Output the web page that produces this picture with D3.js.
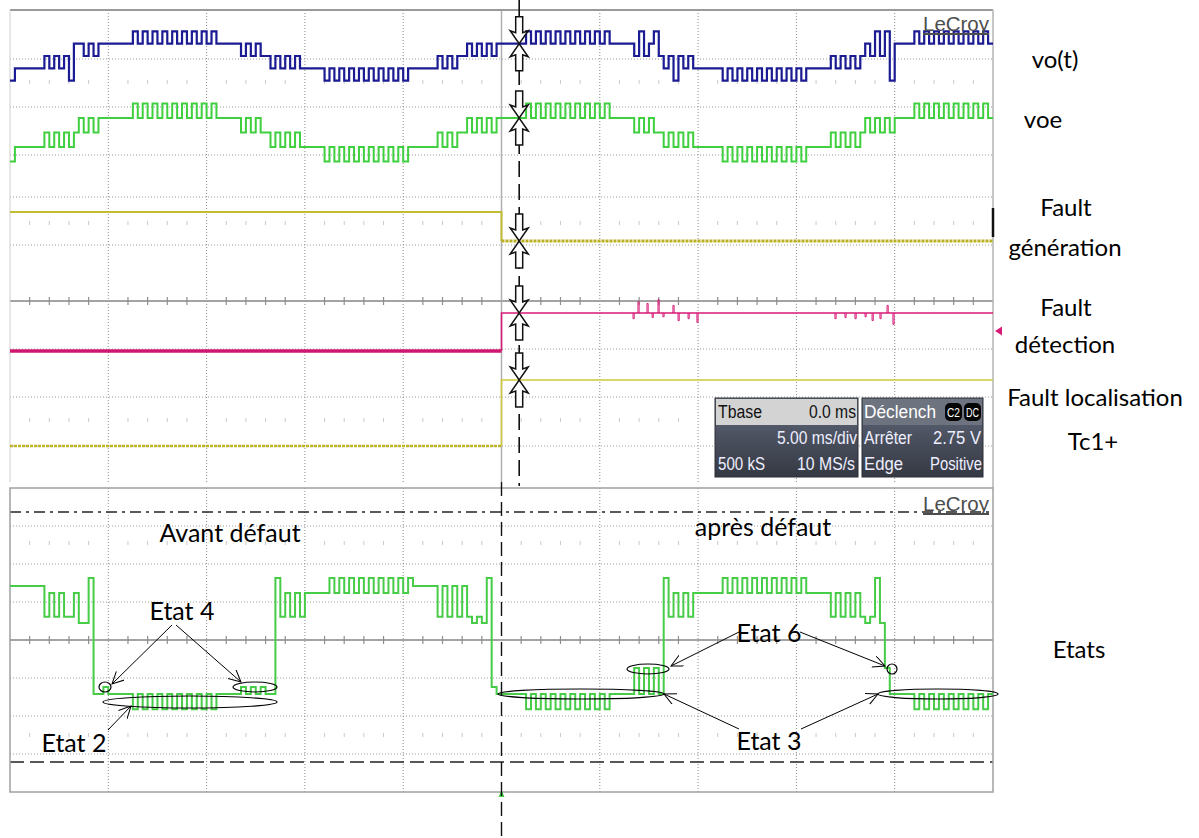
<!DOCTYPE html>
<html><head><meta charset="utf-8">
<script src="https://cdn.jsdelivr.net/npm/d3@7"></script>
<style>body{margin:0;background:#fff}svg{display:block}</style>
</head><body>
<svg id="c" width="1199" height="838"></svg>
<script>
// ---------------- DATA ----------------
// time axis: 5 ms/div, 10 divisions, trigger at 0 ms; traces sampled every 0.25 ms from -25 ms
const timeStartMs = -25, timeEndMs = 25, sampleMs = 0.25;
const timeDivTicks = [-20, -15, -10, -5, 0, 5, 10, 15, 20];

// vo(t): multilevel output voltage, levels -2..2
const voLevels = [
 -2,
 -1,-1,-1,-1,-1,-1,
 0,-1,0,-1,0,-2,
 1,1,0,1,0,1,1,
 1,1,1,1,1,
 2,1,2,1,2,1,2,1,2,1,2,1,2,1,2,1,2,
 1,1,1,1,1,
 0,1,0,1,0,0,
 -1,0,-1,0,-1,0,-1,
 -1,-1,-1,-1,
 -2,-1,-2,-1,-2,-1,-2,-1,-2,-1,-2,-1,-2,-1,-2,-1,-2,-1,
 -1,-1,-1,-1,-1,
 0,-1,0,-1,0,0,
 1,0,1,0,1,0,1,
 1,1,1,1,1,
 2,1,2,1,2,1,2,1,2,1,2,1,2,1,2,1,2,
 1,1,1,1,1,
 0,2,0,1,2,0,
 -1,0,-2,0,-1,0,-1,
 -1,-1,-1,-1,-1,
 -2,-1,-2,-1,-2,-1,-2,-1,-2,-1,-2,-1,-2,-1,-2,-1,-2,
 -1,-1,-1,-1,-1,
 0,-1,0,-1,0,-1,0,
 1,0,2,0,2,-2,
 1,1,1,1,
 2,1,2,1,2,1,2,1,2,1,2,1,2,1,2,1
];

// voe: estimated output voltage, levels -2..2
const voeLevels = [
 -2,
 -1,-1,-1,-1,-1,-1,
 0,-1,0,-1,0,-1,
 0,1,0,1,0,1,1,
 1,1,1,1,1,
 2,1,2,1,2,1,2,1,2,1,2,1,2,1,2,1,2,
 1,1,1,1,1,
 0,1,0,1,0,0,
 -1,0,-1,0,-1,0,-1,
 -1,-1,-1,-1,
 -2,-1,-2,-1,-2,-1,-2,-1,-2,-1,-2,-1,-2,-1,-2,-1,-2,-1,
 -1,-1,-1,-1,-1,
 0,-1,0,-1,0,0,
 1,0,1,0,1,0,1,
 1,1,1,1,1,
 2,1,2,1,2,1,2,1,2,1,2,1,2,1,2,1,2,
 1,1,1,1,1,
 0,1,0,1,0,0,
 -1,0,-1,0,-1,0,-1,
 -1,-1,-1,-1,-1,
 -2,-1,-2,-1,-2,-1,-2,-1,-2,-1,-2,-1,-2,-1,-2,-1,-2,
 -1,-1,-1,-1,-1,
 0,-1,0,-1,0,-1,0,
 1,0,1,0,1,0,
 1,1,1,1,
 2,1,2,1,2,1,2,1,2,1,2,1,2,1,2,1
];

// Etats: state signal in bottom screen (divisions from centre line)
const etatsLevels = [
 1.42,1.42,1.42,1.42,1.42,1.42,1.42,
 0.61,1.24,0.61,1.24,0.61,0.61,1.24,0.45,0.45,1.63,-1.42,
 -1.42,-1.24,
 -1.42,-1.42,-1.42,-1.42,-1.42,
 -1.82,-1.42,-1.82,-1.42,-1.82,-1.42,-1.82,-1.42,-1.82,-1.42,-1.82,-1.42,-1.82,-1.42,-1.82,-1.42,-1.82,
 -1.42,-1.42,-1.42,-1.42,-1.42,
 -1.24,-1.42,-1.24,-1.42,-1.24,-1.42,
 -1.42,
 1.63,
 0.61,1.24,0.61,1.24,0.61,
 1.24,1.24,1.24,1.24,1.24,
 1.63,1.24,1.63,1.24,1.63,1.24,1.63,1.24,1.63,1.24,1.63,1.24,1.63,1.24,1.63,1.24,1.63,
 1.42,1.42,1.42,1.42,1.42,
 0.61,1.42,0.61,1.42,0.61,1.42,0.61,
 0.45,0.61,0.45,
 1.63,
 -1.24,
 -1.42,
 -1.42,-1.42,-1.42,-1.42,-1.42,
 -1.82,-1.42,-1.82,-1.42,-1.82,-1.42,-1.82,-1.42,-1.82,-1.42,-1.82,-1.42,-1.82,-1.42,-1.82,-1.42,-1.82,
 -1.42,-1.42,-1.42,-1.42,-1.42,
 -0.74,-1.42,-0.74,-1.42,-0.74,-1.42,
 1.63,
 0.61,1.24,0.61,1.24,0.61,1.24,
 1.24,1.24,1.24,1.24,1.24,
 1.63,1.24,1.63,1.24,1.63,1.24,1.63,1.24,1.63,1.24,1.63,1.24,1.63,1.24,1.63,1.24,1.63,
 1.24,1.24,1.24,1.24,1.24,
 0.61,1.24,0.61,1.24,0.61,1.24,0.61,
 0.45,0.61,1.63,0.45,
 -0.74,-1.42,
 -1.42,-1.42,-1.42,-1.42,
 -1.82,-1.42,-1.82,-1.42,-1.82,-1.42,-1.82,-1.42,-1.82,-1.42,-1.82,-1.42,-1.82,-1.42,-1.82,-1.42
];

// logic traces: [time ms, level]
const faultGenSteps = [[-25, 1], [0, 0]];
const faultDetSteps = [[-25, 0], [0, 1]];
const faultLocSteps = [[-25, 0], [0, 1]];
// glitches on the detection trace after the fault: [time ms, amplitude]
const faultDetSpikes = [[6.69,-0.15],[6.94,0.3],[7.40,0.25],[7.66,-0.12],[7.96,0.35],[8.21,-0.1],[8.72,0.2],[8.98,-0.2],[9.49,-0.15],[9.94,-0.25],
  [16.96,-0.15],[17.47,-0.12],[17.98,-0.15],[18.49,-0.1],[18.85,-0.2],[19.25,-0.15],[19.61,0.2],[19.91,-0.3]];
const triggerMarkerMs = 0.9;

const sideLabels = ["vo(t)", "voe", "Fault", "génération", "Fault", "détection", "Fault localisation", "Tc1+", "Etats"];
const phaseLabels = ["Avant défaut", "après défaut"];
const stateLabels = ["Etat 4", "Etat 2", "Etat 6", "Etat 3"];
const infoLeft = ["Tbase", "0.0 ms", "5.00 ms/div", "500 kS", "10 MS/s"];
const infoRight = ["Déclench", "C2", "DC", "Arrêter", "2.75 V", "Edge", "Positive"];
const brand = "LeCroy";

// ---------------- DRAWING ----------------
const svg = d3.select("#c");
const L = 10, R = 993, TOP = 10, TOPBOT = 482, BT = 488, BB = 792;
const x = d3.scaleLinear().domain([timeStartMs, timeEndMs]).range([L, R]);
const yVo = d3.scaleLinear().domain([-2, 2]).range([80.6, 31.4]);
const yVoe = d3.scaleLinear().domain([-2, 2]).range([161.5, 103.5]);
const yGen = d3.scaleLinear().domain([0, 1]).range([241, 212]);
const yDet = d3.scaleLinear().domain([0, 1]).range([351, 313]);
const yLoc = d3.scaleLinear().domain([0, 1]).range([446, 380]);
const yEt = d3.scaleLinear().domain([-4, 4]).range([BB, BT]);

const defs = svg.append("defs");
const g1 = defs.append("linearGradient").attr("id","boxg").attr("x1",0).attr("y1",0).attr("x2",0).attr("y2",1);
g1.append("stop").attr("offset","0%").attr("stop-color","#646c7e");
g1.append("stop").attr("offset","50%").attr("stop-color","#4a505e");
g1.append("stop").attr("offset","100%").attr("stop-color","#353943");
defs.append("marker").attr("id","arr").attr("markerUnits","userSpaceOnUse")
  .attr("markerWidth",14).attr("markerHeight",14).attr("refX",12).attr("refY",6)
  .attr("orient","auto").append("path").attr("d","M0,0 L12,6 L0,12")
  .attr("fill","none").attr("stroke","#000").attr("stroke-width",1);

const grid = svg.append("g");
const dotted = {stroke:"#9c9c9c", "stroke-width":1, "stroke-dasharray":"1,2"};
function applyAttrs(sel, o){ for (const k in o) sel.attr(k, o[k]); return sel; }

// faint minor tick rows
const minorX = d3.range(1, 50).filter(j => j % 5 !== 0).map(j => L + (R - L) * j / 50);
[82, 223, 420, 543, 735].forEach(yy => {
  grid.selectAll(null).data(minorX).enter().append("line")
    .attr("x1", d => d).attr("x2", d => d).attr("y1", yy - 2).attr("y2", yy + 2)
    .attr("stroke", "#c9c9c9").attr("stroke-width", 1);
});

// top screen horizontal grid
[59, 107, 155, 197, 245, 349, 397, 446].forEach(yy => {
  applyAttrs(grid.append("line").attr("x1", L).attr("x2", R).attr("y1", yy).attr("y2", yy), dotted);
});
// bottom screen horizontal grid
[526, 564, 602, 678, 716, 754].forEach(yy => {
  applyAttrs(grid.append("line").attr("x1", L).attr("x2", R).attr("y1", yy).attr("y2", yy), dotted);
});
// vertical grid
timeDivTicks.forEach(t => {
  if (t === 0) return;
  applyAttrs(grid.append("line").attr("x1", x(t)).attr("x2", x(t)).attr("y1", TOP).attr("y2", TOPBOT), dotted).attr("stroke","#8a8a8a");
  applyAttrs(grid.append("line").attr("x1", x(t)).attr("x2", x(t)).attr("y1", BT).attr("y2", BB), dotted).attr("stroke","#8a8a8a");
});
grid.append("line").attr("x1", x(0)).attr("x2", x(0)).attr("y1", TOP).attr("y2", TOPBOT).attr("stroke", "#b0b0b0").attr("stroke-width", 1.5);

// centre solid lines with ticks
[301, 640].forEach(yy => {
  grid.append("line").attr("x1", L).attr("x2", R).attr("y1", yy).attr("y2", yy).attr("stroke", "#a3a3a3").attr("stroke-width", 2);
  grid.selectAll(null).data(minorX).enter().append("line")
    .attr("x1", d => d).attr("x2", d => d).attr("y1", yy - 4).attr("y2", yy + 4)
    .attr("stroke", "#8e8e8e").attr("stroke-width", 1.2);
});
// reference lines in bottom screen
grid.append("line").attr("x1", L).attr("x2", R).attr("y1", 512).attr("y2", 512).attr("stroke", "#222").attr("stroke-width", 1.6).attr("stroke-dasharray", "11,5,3,5");
grid.append("line").attr("x1", L).attr("x2", R).attr("y1", 762).attr("y2", 762).attr("stroke", "#222").attr("stroke-width", 1.6).attr("stroke-dasharray", "14,6");

// frames
grid.append("line").attr("x1", L).attr("x2", R).attr("y1", TOP).attr("y2", TOP).attr("stroke", "#9a9a9a").attr("stroke-width", 2);
grid.append("line").attr("x1", L).attr("x2", L).attr("y1", TOP).attr("y2", TOPBOT).attr("stroke", "#cfcfcf").attr("stroke-width", 1);
grid.append("line").attr("x1", R).attr("x2", R).attr("y1", TOP).attr("y2", BT).attr("stroke", "#b5b5b5").attr("stroke-width", 1.5);
grid.append("rect").attr("x", L).attr("y", BT).attr("width", R - L).attr("height", BB - BT).attr("fill", "none").attr("stroke", "#a0a0a0").attr("stroke-width", 1.5);

// ---------- traces ----------
function sampled(levels){
  const pts = levels.map((v, i) => [timeStartMs + i * sampleMs, v]);
  pts.push([timeEndMs, levels[levels.length - 1]]);
  return pts;
}
function stepped(steps){ const p = steps.slice(); p.push([timeEndMs, steps[steps.length-1][1]]); return p; }
const lineFor = ys => d3.line().x(d => x(d[0])).y(d => ys(d[1])).curve(d3.curveStepAfter);
const tr = svg.append("g").attr("fill", "none");

tr.append("path").attr("d", lineFor(yVo)(sampled(voLevels))).attr("stroke", "#1b1b94").attr("stroke-width", 2.2);
tr.append("path").attr("d", lineFor(yVoe)(sampled(voeLevels))).attr("stroke", "#3fcf3f").attr("stroke-width", 2);

// fault generation (olive yellow)
const genPts = stepped(faultGenSteps);
tr.append("path").attr("d", lineFor(yGen)(genPts.filter(d => d[0] <= 0).concat([[0, 0]]))).attr("stroke", "#c4bd34").attr("stroke-width", 2);
tr.append("path").attr("d", lineFor(yGen)(genPts.filter(d => d[0] >= 0))).attr("stroke", "#b8b021").attr("stroke-width", 3.2).attr("stroke-dasharray", "3,1");
// fault detection (magenta)
const detPts = stepped(faultDetSteps);
tr.append("path").attr("d", lineFor(yDet)(detPts.filter(d => d[0] < 0).concat([[0, 0]]))).attr("stroke", "#d0176f").attr("stroke-width", 3.5);
tr.append("path").attr("d", lineFor(yDet)([[0, 0]].concat(detPts.filter(d => d[0] >= 0)))).attr("stroke", "#d81b78").attr("stroke-width", 1.6);
faultDetSpikes.forEach(s => {
  tr.append("path").attr("d", d3.line().x(d => x(d[0])).y(d => yDet(d[1]))([[s[0], 1], [s[0], 1 + s[1]], [s[0] + 0.06, 1 + s[1]], [s[0] + 0.06, 1]]))
    .attr("stroke", "#d81b78").attr("stroke-width", 1);
});
// fault localisation (yellow)
const locPts = stepped(faultLocSteps);
tr.append("path").attr("d", lineFor(yLoc)(locPts.filter(d => d[0] < 0).concat([[0, 0]]))).attr("stroke", "#bfb42a").attr("stroke-width", 2.6).attr("stroke-dasharray", "3,1");
tr.append("path").attr("d", lineFor(yLoc)([[0, 0]].concat(locPts.filter(d => d[0] >= 0)))).attr("stroke", "#cfc93c").attr("stroke-width", 1.6);

// states (bottom screen)
tr.append("path").attr("d", lineFor(yEt)(sampled(etatsLevels))).attr("stroke", "#47cc47").attr("stroke-width", 2);

// right edge decorations
svg.append("line").attr("x1", R).attr("x2", R).attr("y1", 208).attr("y2", 237).attr("stroke", "#111").attr("stroke-width", 2.5);
svg.append("path").attr("d", "M995,331 L1002,326.5 L1002,335.5 Z").attr("fill", "#d81b78");
svg.append("path").attr("d", `M${x(0)},790 L${x(0)-3},797 L${x(0)+3},797 Z`).attr("fill", "#47cc47");

// ---------- trigger line and markers ----------
const xm = x(triggerMarkerMs);
svg.append("line").attr("x1", xm).attr("x2", xm).attr("y1", 0).attr("y2", 486).attr("stroke", "#111").attr("stroke-width", 1.6).attr("stroke-dasharray", "16,7");
svg.append("line").attr("x1", x(0)).attr("x2", x(0)).attr("y1", BT - 6).attr("y2", 838).attr("stroke", "#111").attr("stroke-width", 1.4).attr("stroke-dasharray", "14,6");
function markerPath(cx, cy){
  const half = s => `M${cx-3.5},${cy+s*27} H${cx+3.5} V${cy+s*11} L${cx+9},${cy+s*13} L${cx},${cy} L${cx-9},${cy+s*13} L${cx-3.5},${cy+s*11} Z`;
  return half(-1) + " " + half(1);
}
const idxAt = Math.floor((triggerMarkerMs - timeStartMs) / sampleMs);
[[yVo, voLevels[idxAt]], [yVoe, voeLevels[idxAt]], [yGen, 0], [yDet, 1], [yLoc, 1]].forEach(([ys, v]) => {
  svg.append("path").attr("d", markerPath(xm, ys(v))).attr("fill", "#fff").attr("stroke", "#111").attr("stroke-width", 1.5);
});

// ---------- LeCroy logos ----------
[[31, 956], [511, 956]].forEach(([by, cx]) => {
  svg.append("text").attr("x", cx).attr("y", by).attr("text-anchor", "middle")
    .attr("font-family", "'Liberation Sans', Arial, sans-serif").attr("font-size", 20).attr("fill", "#4d4d4d")
    .attr("textLength", 66).attr("lengthAdjust", "spacingAndGlyphs").text(brand);
  svg.append("line").attr("x1", cx - 33).attr("x2", cx + 33).attr("y1", by + 3).attr("y2", by + 3).attr("stroke", "#4d4d4d").attr("stroke-width", 2);
});

// ---------- info boxes ----------
const ib = svg.append("g").attr("font-family", "'Liberation Sans', Arial, sans-serif").attr("font-size", 18);
ib.append("rect").attr("x", 715).attr("y", 398).attr("width", 143).attr("height", 79).attr("fill", "url(#boxg)").attr("stroke", "#2c2f36");
ib.append("rect").attr("x", 716).attr("y", 399).attr("width", 141).attr("height", 26).attr("fill", "#d3d3d3");
ib.append("rect").attr("x", 862).attr("y", 398).attr("width", 121).attr("height", 79).attr("fill", "url(#boxg)").attr("stroke", "#2c2f36");
ib.append("rect").attr("x", 863).attr("y", 399).attr("width", 119).attr("height", 26).attr("fill", "#6e7380");
const txt = (s, xx, yy, anchor, col, w) => ib.append("text").attr("x", xx).attr("y", yy).attr("text-anchor", anchor).attr("fill", col)
  .attr("textLength", w).attr("lengthAdjust", "spacingAndGlyphs").text(s);
txt(infoLeft[0], 718, 418, "start", "#111", 44);
txt(infoLeft[1], 856, 418, "end", "#111", 47);
txt(infoLeft[2], 857, 444, "end", "#eef", 80);
txt(infoLeft[3], 718, 470, "start", "#eef", 47);
txt(infoLeft[4], 855, 470, "end", "#eef", 58);
txt(infoRight[0], 864, 418, "start", "#fff", 72);
ib.append("rect").attr("x", 945).attr("y", 403).attr("width", 17).attr("height", 18).attr("rx", 5).attr("fill", "#050505");
ib.append("rect").attr("x", 964).attr("y", 403).attr("width", 17).attr("height", 18).attr("rx", 5).attr("fill", "#050505");
ib.append("text").attr("x", 953.5).attr("y", 417).attr("text-anchor", "middle").attr("font-size", 13).attr("fill", "#fff")
  .attr("textLength", 13).attr("lengthAdjust", "spacingAndGlyphs").text(infoRight[1]);
ib.append("text").attr("x", 972.5).attr("y", 417).attr("text-anchor", "middle").attr("font-size", 13).attr("fill", "#fff")
  .attr("textLength", 13).attr("lengthAdjust", "spacingAndGlyphs").text(infoRight[2]);
txt(infoRight[3], 864, 444, "start", "#eef", 48);
txt(infoRight[4], 981, 444, "end", "#eef", 48);
txt(infoRight[5], 864, 470, "start", "#eef", 39);
txt(infoRight[6], 982, 470, "end", "#eef", 52);

// ---------- side labels ----------
const lab = svg.append("g").attr("font-family", "Lato, 'Open Sans', sans-serif").attr("font-size", 24).attr("fill", "#000").attr("text-anchor", "middle");
[[1055, 68], [1043, 128], [1066, 216], [1065, 256], [1066, 316], [1065, 353], [1095, 406], [1093, 450], [1079, 658]].forEach((p, i) => {
  lab.append("text").attr("x", p[0]).attr("y", p[1]).text(sideLabels[i]);
});

// ---------- annotations ----------
const an = svg.append("g").attr("font-family", "Lato, 'Open Sans', sans-serif").attr("font-size", 25).attr("fill", "#000").attr("text-anchor", "middle");
an.append("text").attr("x", 230).attr("y", 542).text(phaseLabels[0]);
an.append("text").attr("x", 763).attr("y", 536).text(phaseLabels[1]);
[[182, 620], [74, 752], [769, 642], [769, 750]].forEach((p, i) => an.append("text").attr("x", p[0]).attr("y", p[1]).text(stateLabels[i]));

const el = svg.append("g").attr("fill", "none").attr("stroke", "#000").attr("stroke-width", 1.2);
[[105, 687, 6, 5], [255, 687, 22, 5], [190, 702, 87, 6], [648, 669, 21, 5], [892, 669, 5, 5], [581, 694, 83, 5], [938, 694, 60, 5]]
  .forEach(e => el.append("ellipse").attr("cx", e[0]).attr("cy", e[1]).attr("rx", e[2]).attr("ry", e[3]));
[[172, 625, 112, 684], [176, 625, 241, 682], [108, 730, 131, 706], [739, 632, 671, 666], [800, 632, 885, 666], [739, 729, 664, 694], [801, 729, 878, 694]]
  .forEach(l => el.append("line").attr("x1", l[0]).attr("y1", l[1]).attr("x2", l[2]).attr("y2", l[3]).attr("stroke-width", 1).attr("marker-end", "url(#arr)"));
</script>
</body></html>
